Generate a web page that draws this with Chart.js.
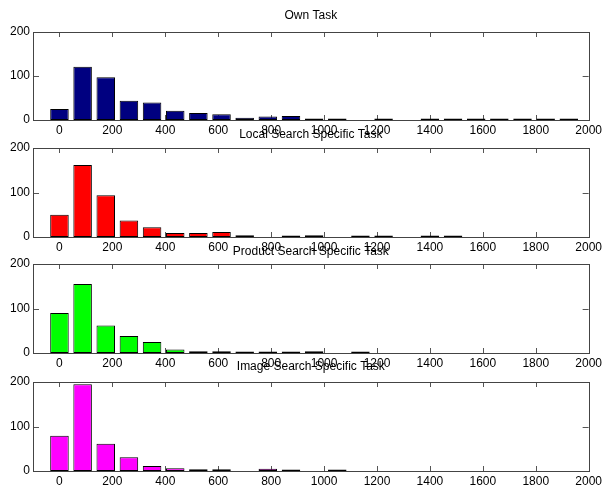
<!DOCTYPE html>
<html>
<head>
<meta charset="utf-8">
<script src="https://cdn.jsdelivr.net/npm/chart.js@4.4.0/dist/chart.umd.min.js"></script>
<style>
  html, body { margin: 0; padding: 0; background: #fff; }
  #wrap { position: relative; width: 605px; height: 490px; overflow: hidden; }
  #wrap canvas { position: absolute; left: 0; }
</style>
</head>
<body>
<div id="wrap"></div>
<script>
// histogram bin centres (23 bins, width 87.5)
const binCenters = [0, 87.5, 175, 262.5, 350, 437.5, 525, 612.5, 700, 787.5, 875, 962.5,
    1050, 1137.5, 1225, 1312.5, 1400, 1487.5, 1575, 1662.5, 1750, 1837.5, 1925];

const titles = ["Own Task", "Local Search Specific Task", "Product Search Specific Task", "Image Search Specific Task"];
const barColors = ["#000080", "#ff0000", "#00ff00", "#ff00ff"];

// counts per bin
const ownTask     = [25, 121, 97, 44, 40, 21, 16, 13, 5, 8, 9, 3, 1, 0, 3, 0, 2, 1, 1, 1, 2, 2, 2];
const localSearch = [50, 162, 94, 37, 22, 9, 9, 11, 4, 0, 1, 4, 0, 1, 1, 0, 1, 1, 0, 0, 0, 0, 0];
const productSearch = [90, 155, 62, 38, 25, 8, 4, 4, 2, 2, 2, 4, 0, 1, 0, 0, 0, 0, 0, 0, 0, 0, 0];
const imageSearch = [79, 195, 61, 31, 11, 6, 4, 4, 0, 5, 1, 0, 1, 0, 0, 0, 0, 0, 0, 0, 0, 0, 0];
const allCounts = [ownTask, localSearch, productSearch, imageSearch];

const xTicks = [0, 200, 400, 600, 800, 1000, 1200, 1400, 1600, 1800, 2000];
const yTicks = [0, 100, 200];

// plot boxes (page pixels)
const plotTop = [32, 148, 264, 382];
const plotBottom = [120, 237, 353, 471];
const titleGap = [16, 13.5, 12.5, 15];
const FONT = "'Liberation Sans', Arial, Helvetica, sans-serif";

// matlab style box + inward ticks + title
const boxPlugin = {
    id: "matlabBox",
    beforeDatasetsDraw(chart) {
        const ctx = chart.ctx;
        const a = chart.chartArea;
        const xs = chart.scales.x, ys = chart.scales.y;
        ctx.save();
        ctx.strokeStyle = "#555";
        ctx.lineWidth = 1;
        ctx.beginPath();
        xTicks.forEach((v) => {
            const px = Math.round(xs.getPixelForValue(v)) + 0.5;
            ctx.moveTo(px, a.bottom); ctx.lineTo(px, a.bottom - 5);
            ctx.moveTo(px, a.top); ctx.lineTo(px, a.top + 5);
        });
        yTicks.forEach((v) => {
            const py = Math.round(ys.getPixelForValue(v)) + 0.5;
            ctx.moveTo(a.left, py); ctx.lineTo(a.left + 6, py);
            ctx.moveTo(a.right, py); ctx.lineTo(a.right - 6, py);
        });
        ctx.stroke();
        ctx.restore();
    },
    afterDatasetsDraw(chart, args, opts) {
        const ctx = chart.ctx;
        const a = chart.chartArea;
        ctx.save();
        ctx.strokeStyle = "#444";
        ctx.lineWidth = 1;
        ctx.strokeRect(Math.round(a.left) + 0.5, Math.round(a.top) + 0.5,
            Math.round(a.right - a.left), Math.round(a.bottom - a.top));
        ctx.fillStyle = "#000";
        ctx.font = "12px " + FONT;
        ctx.textAlign = "center";
        ctx.textBaseline = "middle";
        ctx.fillText(opts.text, (a.left + a.right) / 2, a.top - opts.gap);
        ctx.restore();
    }
};

const wrap = document.getElementById("wrap");

for (let i = 0; i < 4; i++) {
    const h = plotBottom[i] - plotTop[i] + 32 + 20;
    const canvas = document.createElement("canvas");
    canvas.style.top = (plotTop[i] - 32) + "px";
    canvas.style.width = "605px";
    canvas.style.height = h + "px";
    canvas.width = 605;
    canvas.height = h;
    wrap.appendChild(canvas);

    const points = [];
    binCenters.forEach((c, k) => {
        if (allCounts[i][k] > 0) points.push({ x: c, y: allCounts[i][k] });
    });

    new Chart(canvas.getContext("2d"), {
        type: "bar",
        data: {
            datasets: [{
                data: points,
                backgroundColor: barColors[i],
                borderColor: "#000",
                borderWidth: 1,
                borderSkipped: false,
                barPercentage: 0.8,
                categoryPercentage: 1.0,
                minBarLength: 1.5
            }]
        },
        options: {
            responsive: false,
            animation: false,
            maintainAspectRatio: false,
            layout: { padding: { top: 32, right: 12, left: 0, bottom: 0 } },
            plugins: {
                legend: { display: false },
                tooltip: { enabled: false },
                title: { display: false },
                matlabBox: { text: titles[i], gap: titleGap[i] }
            },
            scales: {
                x: {
                    type: "linear",
                    min: -100,
                    max: 2000,
                    offset: false,
                    grid: { display: false, drawTicks: false },
                    border: { display: false },
                    afterBuildTicks: (scale) => { scale.ticks = xTicks.map((v) => ({ value: v })); },
                    afterFit: (scale) => { scale.height = 20; },
                    ticks: {
                        padding: 3,
                        maxRotation: 0,
                        autoSkip: false,
                        color: "#000",
                        font: { family: FONT, size: 12 },
                        callback: (v) => String(v)
                    }
                },
                y: {
                    min: 0,
                    max: 200,
                    grid: { display: false, drawTicks: false },
                    border: { display: false },
                    afterBuildTicks: (scale) => { scale.ticks = yTicks.map((v) => ({ value: v })); },
                    afterFit: (scale) => { scale.width = 33; },
                    ticks: {
                        padding: 3,
                        color: "#000",
                        font: { family: FONT, size: 12 },
                        callback: (v) => String(v)
                    }
                }
            }
        },
        plugins: [boxPlugin]
    });
}
</script>
</body>
</html>
